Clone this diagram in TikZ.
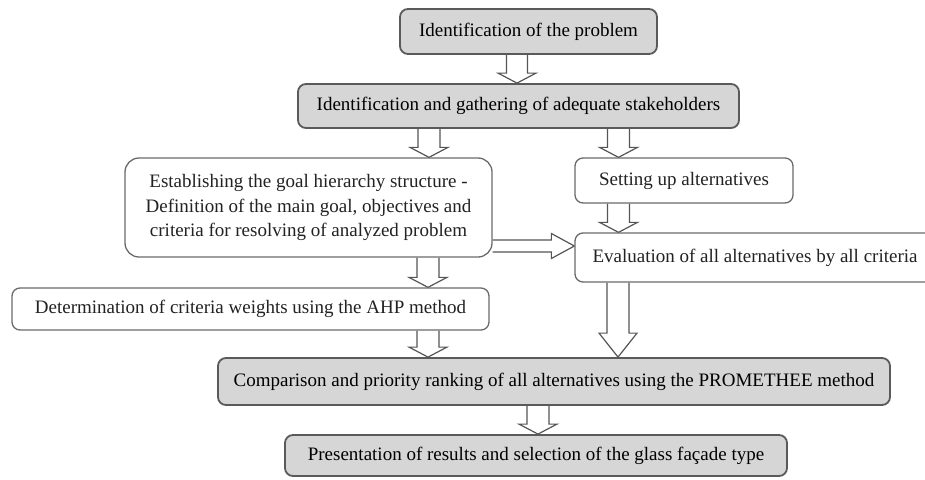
\documentclass[tikz,border=0pt]{standalone}
\usepackage{fontspec}
\setmainfont{Liberation Serif}
\usetikzlibrary{calc,backgrounds}
\definecolor{boxgray}{HTML}{D6D6D6}
\definecolor{grayline}{HTML}{5A5A5A}
\definecolor{boxline}{HTML}{6A6A6A}
\definecolor{arrowline}{HTML}{555555}
\definecolor{txt}{HTML}{222222}
\newcommand\vdarrow[5]{%
  \draw[barrow] let \p1=(#1), \p2=(#2) in
    (\x1-#3,\y1) -- (\x1-#3,\y2+#5) -- (\x1-#4,\y2+#5) -- (\x1,\y2)
    -- (\x1+#4,\y2+#5) -- (\x1+#3,\y2+#5) -- (\x1+#3,\y1);}
\newcommand\hrarrow[5]{%
  \draw[barrow] let \p1=(#1), \p2=(#2) in
    (\x1,\y1+#3) -- (\x2-#5,\y1+#3) -- (\x2-#5,\y1+#4) -- (\x2,\y1)
    -- (\x2-#5,\y1-#4) -- (\x2-#5,\y1-#3) -- (\x1,\y1-#3);}
\begin{document}
\begin{tikzpicture}[x=1pt,y=-1pt,
  box/.style={draw=boxline, line width=1.3pt, rounded corners=8pt, fill=white,
    text=txt, font=\fontsize{19}{24.5}\selectfont, inner sep=0pt, align=center},
  gbox/.style={box, fill=boxgray, draw=grayline, line width=1.8pt, text=black},
  barrow/.style={draw=arrowline, line width=1.2pt, fill=white, line join=miter}]
\useasboundingbox (0,0) rectangle (925,479);
\clip (0,0) rectangle (925,479);
\node[gbox, minimum width=257pt, minimum height=45pt] (b1) at (528.5,31.5) {Identification of the problem};
\node[gbox, minimum width=441pt, minimum height=44pt] (b2) at (518.5,106) {Identification and gathering of adequate stakeholders};
\node[box, rounded corners=14pt, minimum width=367pt, minimum height=99pt] (b3) at (308.5,207.5)
  {Establishing the goal hierarchy structure -\\Definition of the main goal, objectives and\\criteria for resolving of analyzed problem};
\node[box, minimum width=218pt, minimum height=45pt] (set) at (684,180.5) {Setting up alternatives};
\node[box, minimum width=360pt, minimum height=49pt] (eval) at (755,257.5) {Evaluation of all alternatives by all criteria};
\node[box, minimum width=477pt, minimum height=42pt] (det) at (250.5,309) {Determination of criteria weights using the AHP method};
\node[gbox, minimum width=672pt, minimum height=47pt] (cmp) at (554,381.5) {Comparison and priority ranking of all alternatives using the PROMETHEE method};
\node[gbox, minimum width=502pt, minimum height=41pt] (pres) at (536,455.5) {Presentation of results and selection of the glass façade type};
\begin{pgfonlayer}{background}
\vdarrow{[xshift=-11.5pt]b1.south}{b2.north}{10.5pt}{19pt}{10pt}
\vdarrow{[xshift=-89.5pt]b2.south}{b3.north}{11pt}{19pt}{10pt}
\vdarrow{[xshift=100pt]b2.south}{set.north}{11pt}{19pt}{10pt}
\vdarrow{[xshift=-65.5pt]set.south}{eval.north}{11pt}{19pt}{10pt}
\vdarrow{[xshift=119.5pt]b3.south}{det.north}{11pt}{19pt}{10pt}
\vdarrow{[xshift=177.5pt]det.south}{cmp.north}{11pt}{19pt}{10pt}
\vdarrow{[xshift=-137pt]eval.south}{cmp.north}{11pt}{19pt}{24pt}
\vdarrow{[xshift=-16pt]cmp.south}{pres.north}{11pt}{19pt}{10pt}
\hrarrow{[yshift=-38.5pt]b3.east}{eval.west}{6pt}{12.5pt}{23pt}
\end{pgfonlayer}
\end{tikzpicture}
\end{document}
